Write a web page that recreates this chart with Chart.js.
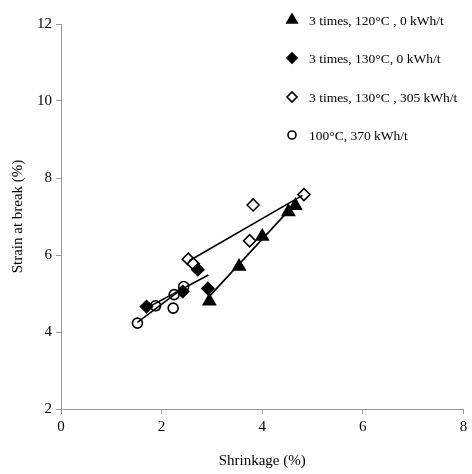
<!DOCTYPE html>
<html>
<head>
<meta charset="utf-8">
<script src="https://cdn.jsdelivr.net/npm/chart.js@4"></script>
<style>
  html, body { margin: 0; padding: 0; background: #fff; }
  #wrap { width: 472px; height: 474px; }
</style>
</head>
<body>
<div id="wrap"><canvas id="chart" width="472" height="474"></canvas></div>
<script>
// Données
const labels = ['3 times, 120°C , 0 kWh/t', '3 times, 130°C, 0 kWh/t', '3 times, 130°C , 305 kWh/t', '100°C, 370 kWh/t'];

const tri120X = [2.95, 3.54, 4.00, 4.52, 4.66];
const tri120Y = [4.80, 5.70, 6.48, 7.12, 7.28];

const dia130X = [1.70, 2.42, 2.72, 2.92];
const dia130Y = [4.66, 5.05, 5.62, 5.13];

const open305X = [2.53, 2.63, 3.75, 3.82, 4.83];
const open305Y = [5.89, 5.77, 6.37, 7.30, 7.57];

const circ100X = [1.52, 1.88, 2.23, 2.25, 2.44];
const circ100Y = [4.23, 4.68, 4.62, 4.97, 5.18];

// Droites de tendance (extrémités)
const trendTriX = [2.93, 4.70];
const trendTriY = [4.90, 7.40];
const trendDiaX = [1.70, 2.93];
const trendDiaY = [4.62, 5.48];
const trendOpenX = [2.55, 4.80];
const trendOpenY = [5.85, 7.55];
const trendCircX = [1.52, 2.44];
const trendCircY = [4.25, 5.15];

const xTicks = [0, 2, 4, 6, 8];
const yTicks = [2, 4, 6, 8, 10, 12];

const pts = (xs, ys) => xs.map((x, i) => ({ x: x, y: ys[i] }));
const serif = '"Liberation Serif", "DejaVu Serif", serif';

const markerStyles = [
  { pointStyle: 'triangle', radius: 7, backgroundColor: '#000', borderColor: '#000' },
  { pointStyle: 'rectRot', radius: 6, backgroundColor: '#000', borderColor: '#000' },
  { pointStyle: 'rectRot', radius: 6, backgroundColor: '#fff', borderColor: '#000' },
  { pointStyle: 'circle', radius: 5, backgroundColor: '#fff', borderColor: '#000' }
];

const trendLine = (xs, ys) => ({
  type: 'line',
  data: pts(xs, ys),
  borderColor: '#000',
  borderWidth: 1.6,
  pointRadius: 0,
  fill: false,
  tension: 0
});

const scatterSet = (i, xs, ys) => ({
  type: 'scatter',
  label: labels[i],
  data: pts(xs, ys),
  pointStyle: markerStyles[i].pointStyle,
  pointRadius: markerStyles[i].radius,
  pointBackgroundColor: markerStyles[i].backgroundColor,
  pointBorderColor: markerStyles[i].borderColor,
  pointBorderWidth: 1.6
});

// Légende dessinée à l'intérieur de la zone du graphique
const innerLegend = {
  id: 'innerLegend',
  afterDraw(chart) {
    const ctx = chart.ctx;
    const rows = [20, 58, 97, 135];
    ctx.save();
    ctx.font = '13.5px ' + serif;
    ctx.textBaseline = 'middle';
    labels.forEach((txt, i) => {
      const m = markerStyles[i];
      ctx.fillStyle = m.backgroundColor;
      ctx.strokeStyle = m.borderColor;
      ctx.lineWidth = 1.6;
      Chart.helpers.drawPoint(ctx, { pointStyle: m.pointStyle, radius: m.radius - 1, borderWidth: 1.6 }, 292, rows[i]);
      ctx.fillStyle = '#000';
      ctx.fillText(txt, 309, rows[i] + 1);
    });
    ctx.restore();
  }
};

const ctx = document.getElementById('chart').getContext('2d');

new Chart(ctx, {
  data: {
    datasets: [
      trendLine(trendTriX, trendTriY),
      trendLine(trendDiaX, trendDiaY),
      trendLine(trendOpenX, trendOpenY),
      trendLine(trendCircX, trendCircY),
      scatterSet(0, tri120X, tri120Y),
      scatterSet(1, dia130X, dia130Y),
      scatterSet(2, open305X, open305Y),
      scatterSet(3, circ100X, circ100Y)
    ]
  },
  options: {
    responsive: false,
    animation: false,
    layout: { padding: { top: 24, right: 5, left: 0, bottom: 0 } },
    plugins: { legend: { display: false }, tooltip: { enabled: false } },
    scales: {
      x: {
        type: 'linear',
        min: 0, max: 8,
        afterBuildTicks: axis => { axis.ticks = xTicks.map(v => ({ value: v })); },
        afterFit: axis => { axis.height = 65; },
        border: { color: '#999', width: 1 },
        grid: { drawOnChartArea: false, color: '#999', tickLength: 5 },
        ticks: { color: '#000', font: { family: serif, size: 15 }, padding: 4 },
        title: { display: true, text: 'Shrinkage (%)', color: '#000', font: { family: serif, size: 15 }, padding: { top: 6 } }
      },
      y: {
        type: 'linear',
        min: 2, max: 12,
        afterBuildTicks: axis => { axis.ticks = yTicks.map(v => ({ value: v })); },
        afterFit: axis => { axis.width = 61; },
        border: { color: '#999', width: 1 },
        grid: { drawOnChartArea: false, color: '#999', tickLength: 5 },
        ticks: { color: '#000', font: { family: serif, size: 15 }, padding: 4 },
        title: { display: true, text: 'Strain at break (%)', color: '#000', font: { family: serif, size: 15 }, padding: { top: 9, bottom: 2 } }
      }
    }
  },
  plugins: [innerLegend]
});
</script>
</body>
</html>
